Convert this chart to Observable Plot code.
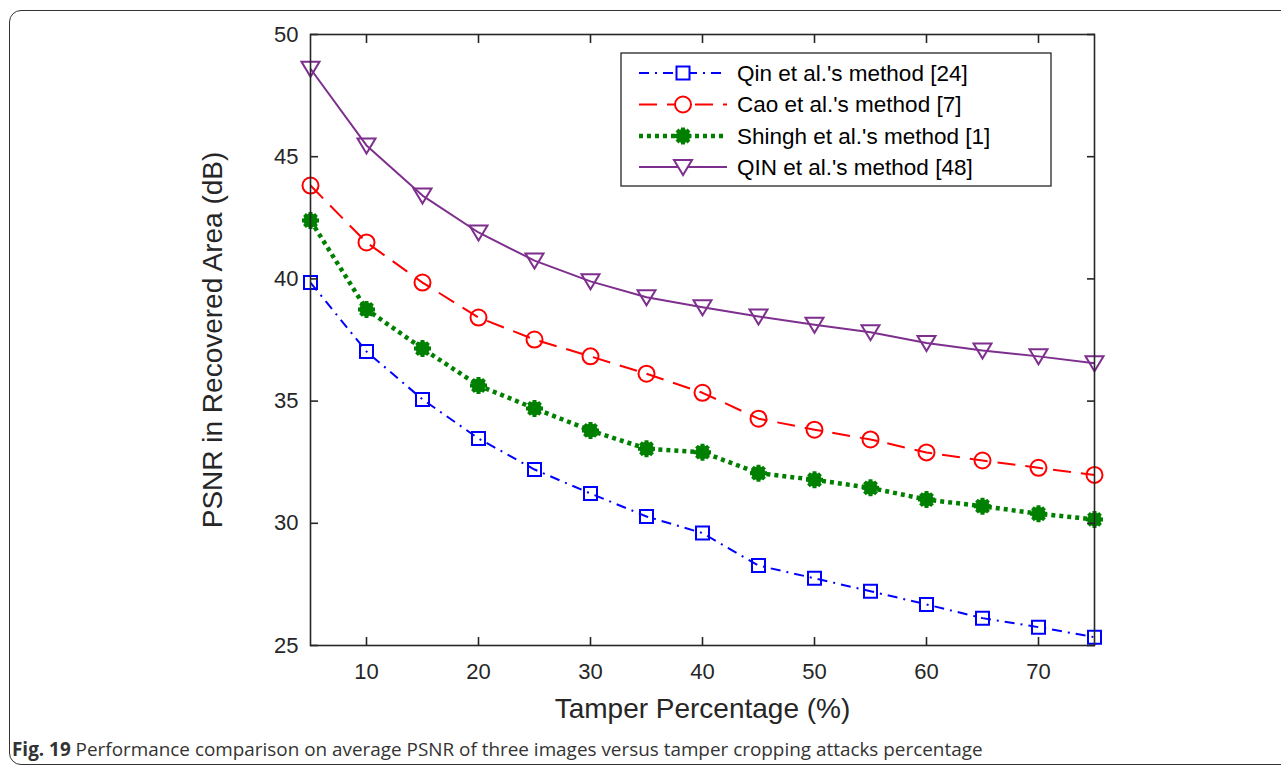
<!DOCTYPE html>
<html>
<head>
<meta charset="utf-8">
<script src="https://cdn.jsdelivr.net/npm/d3@7"></script>
<script src="https://cdn.jsdelivr.net/npm/@observablehq/plot@0.6"></script>
<style>
  html, body { margin: 0; padding: 0; background: #fff; width: 1281px; height: 768px; overflow: hidden; }
  #frame { position: absolute; left: 9px; top: 10px; width: 1320px; height: 755px; border: 1.5px solid #333; border-radius: 12px; box-sizing: border-box; }
  #chart { position: absolute; left: 0; top: 0; }
  #legend { position: absolute; left: 0; top: 0; }
  #caption { position: absolute; left: 12px; top: 736px; font-family: "Open Sans", sans-serif; font-size: 18.9px; color: #333; white-space: nowrap; }
  #caption b { font-weight: 700; }
</style>
</head>
<body>
<div id="frame"></div>
<div id="chart"></div>
<div id="legend"></div>
<div id="caption"><b>Fig. 19</b> Performance comparison on average PSNR of three images versus tamper cropping attacks percentage</div>
<script>
const tamper = [5, 10, 15, 20, 25, 30, 35, 40, 45, 50, 55, 60, 65, 70, 75];
const qin24 = [39.85, 37.03, 35.07, 33.47, 32.2, 31.22, 30.28, 29.6, 28.27, 27.75, 27.22, 26.68, 26.12, 25.75, 25.34];
const cao7 = [43.82, 41.49, 39.85, 38.42, 37.52, 36.83, 36.12, 35.34, 34.28, 33.83, 33.43, 32.9, 32.57, 32.27, 31.98];
const shingh1 = [42.39, 38.75, 37.15, 35.64, 34.7, 33.8, 33.05, 32.91, 32.05, 31.78, 31.45, 30.97, 30.7, 30.39, 30.16];
const qin48 = [48.6, 45.46, 43.41, 41.9, 40.75, 39.9, 39.25, 38.84, 38.46, 38.12, 37.82, 37.38, 37.07, 36.83, 36.55];
const seriesNames = ["Qin et al.'s method [24]", "Cao et al.'s method [7]", "Shingh et al.'s method [1]", "QIN et al.'s method [48]"];
const xTicks = [10, 20, 30, 40, 50, 60, 70];
const yTicks = [25, 30, 35, 40, 45, 50];
const xLabel = "Tamper Percentage (%)";
const yLabel = "PSNR in Recovered Area (dB)";

const colors = ["#0000FF", "#FF0000", "#008000", "#7E2F8E"];
const dashes = ["10,6,2,6", "18,10", "4,4", null];
const widths = [2, 2, 4.5, 2];

// custom symbols
const squareSym = { draw(ctx) { const s = 6.5; ctx.moveTo(-s, -s); ctx.lineTo(s, -s); ctx.lineTo(s, s); ctx.lineTo(-s, s); ctx.closePath(); } };
const circleSym = { draw(ctx) { const r = 8; ctx.moveTo(r, 0); ctx.arc(0, 0, r, 0, 2 * Math.PI); } };
const triDownSym = { draw(ctx) { ctx.moveTo(-9, -7); ctx.lineTo(9, -7); ctx.lineTo(0, 8); ctx.closePath(); } };
const starSym = { draw(ctx) { const r = 8.5; for (let i = 0; i < 4; i++) { const a = i * Math.PI / 4; ctx.moveTo(-r * Math.cos(a), -r * Math.sin(a)); ctx.lineTo(r * Math.cos(a), r * Math.sin(a)); } } };
const syms = [squareSym, circleSym, starSym, triDownSym];

const allSeries = [qin24, cao7, shingh1, qin48];
const rows = [];
allSeries.forEach((vals, s) => vals.forEach((v, i) => rows.push({ series: seriesNames[s], s, x: tamper[i], y: v })));

const marks = [];
allSeries.forEach((vals, s) => {
  const d = rows.filter(r => r.s === s);
  marks.push(Plot.line(d, { x: "x", y: "y", stroke: colors[s], strokeWidth: widths[s], strokeDasharray: dashes[s], strokeLinecap: "butt" }));
});
allSeries.forEach((vals, s) => {
  const d = rows.filter(r => r.s === s);
  if (s === 2) {
    marks.push(Plot.dot(d, { x: "x", y: "y", r: 7, fill: colors[s], stroke: "none", symbol: "circle" }));
    marks.push(Plot.dot(d, { x: "x", y: "y", symbol: starSym, stroke: colors[s], strokeWidth: 4, fill: "none" }));
  } else {
    marks.push(Plot.dot(d, { x: "x", y: "y", symbol: syms[s], stroke: colors[s], strokeWidth: 2, fill: "none" }));
  }
});

const chart = Plot.plot({
  width: 1281,
  height: 730,
  marginLeft: 310,
  marginRight: 187,
  marginTop: 34,
  marginBottom: 85,
  style: { fontFamily: "'Liberation Sans', Arial, sans-serif", background: "transparent", color: "#262626" },
  x: { domain: [5, 75] },
  y: { domain: [25, 50] },
  marks: [
    ...marks,
    Plot.frame({ stroke: "#262626", strokeWidth: 1.6 }),
    Plot.axisX(xTicks, { anchor: "bottom", tickSize: -8, tickPadding: 26, fontSize: 22, stroke: "#262626", strokeWidth: 1.6, label: null }),
    Plot.axisX(xTicks, { anchor: "top", tickSize: -8, tickFormat: () => "", stroke: "#262626", strokeWidth: 1.6, label: null }),
    Plot.axisY(yTicks, { anchor: "left", tickSize: -8, tickPadding: 20, fontSize: 22, stroke: "#262626", strokeWidth: 1.6, label: null }),
    Plot.axisY(yTicks, { anchor: "right", tickSize: -8, tickFormat: () => "", stroke: "#262626", strokeWidth: 1.6, label: null }),
    Plot.text([xLabel], { frameAnchor: "bottom", dy: 72, fontSize: 28, fill: "#262626", textAnchor: "middle" }),
    Plot.text([yLabel], { frameAnchor: "left", rotate: -90, dx: -97, fontSize: 28, fill: "#262626", textAnchor: "middle" })
  ]
});
document.getElementById("chart").appendChild(chart);

// Legend overlay
const lg = d3.select("#legend").append("svg").attr("width", 1281).attr("height", 220);
lg.append("rect").attr("x", 621).attr("y", 53).attr("width", 430).attr("height", 133)
  .attr("fill", "#fff").attr("stroke", "#262626").attr("stroke-width", 1.3);
const rowY = [73, 104.5, 136, 167];
seriesNames.forEach((name, s) => {
  const y = rowY[s];
  lg.append("line").attr("x1", 639).attr("x2", 727).attr("y1", y).attr("y2", y)
    .attr("stroke", colors[s]).attr("stroke-width", widths[s]).attr("stroke-dasharray", dashes[s]);
  const g = lg.append("g").attr("transform", `translate(683,${y})`);
  const p = d3.path(); syms[s].draw(p);
  if (s === 2) {
    g.append("circle").attr("r", 7).attr("fill", colors[s]);
    g.append("path").attr("d", p.toString()).attr("stroke", colors[s]).attr("stroke-width", 4).attr("fill", "none");
  } else {
    g.append("path").attr("d", p.toString()).attr("stroke", colors[s]).attr("stroke-width", 2).attr("fill", "#fff");
  }
  lg.append("text").attr("x", 737).attr("y", y).attr("dy", "0.35em")
    .attr("font-family", "'Liberation Sans', Arial, sans-serif").attr("font-size", 22.5).attr("fill", "#000").text(name);
});
</script>
</body>
</html>
